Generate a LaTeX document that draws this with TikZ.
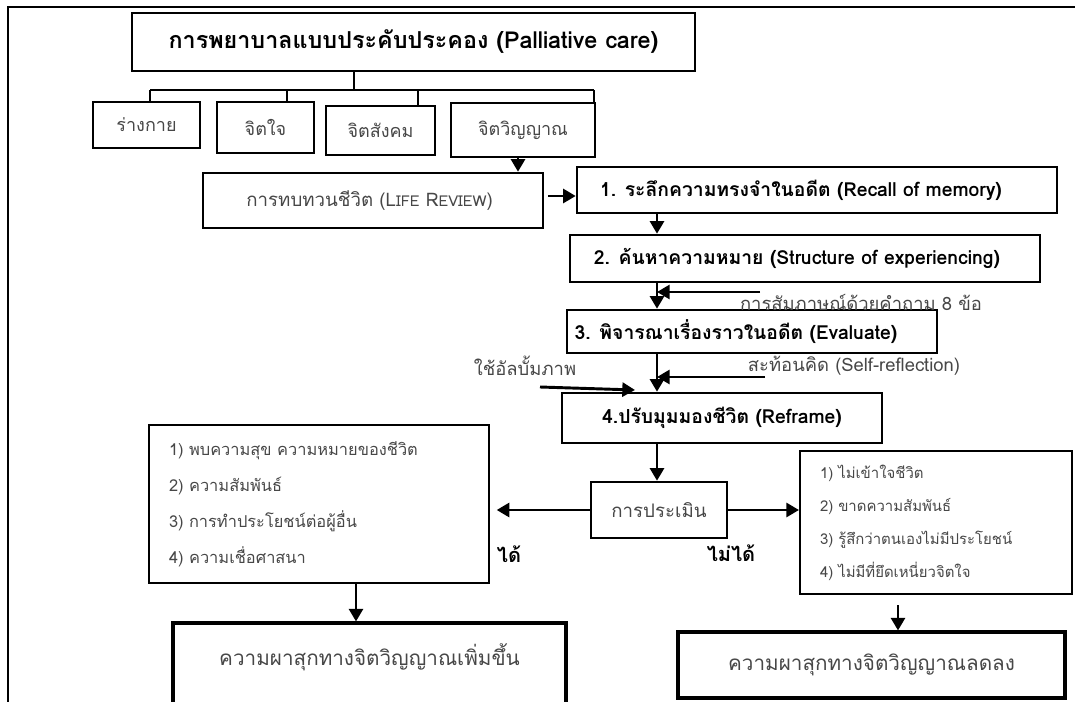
\documentclass[tikz,border=0pt]{standalone}
\usepackage{fontspec}
\setmainfont[Script=Thai]{Loma}
\usetikzlibrary{arrows.meta}
\tikzset{
  sz/.style 2 args={minimum width=#1*0.75pt, minimum height=#2*0.75pt},
  box/.style={draw, line width=1.9pt, inner sep=0pt, align=center},
  lbox/.style={draw, line width=1.5pt, inner sep=0pt},
  thk/.style={draw, line width=2.3pt, inner sep=0pt, align=center},
  gtxt/.style={text=black!72},
  ln/.style={line width=1.5pt},
  arr/.style={line width=2.2pt, -{Triangle[length=9.5pt,width=10.5pt]}},
  lbl/.style={inner sep=0pt, text=black!72, font=\fontsize{13.8}{15}\selectfont},
  yn/.style={inner sep=0pt, font=\fontsize{15}{18}\selectfont\bfseries},
  stepfont/.style={font=\fontsize{14.5}{16}\selectfont\bfseries},
}
\begin{document}
\begin{tikzpicture}[x=0.75pt,y=-0.75pt]
\useasboundingbox (0,0) rectangle (1075,702);
\clip (0,0) rectangle (1075,702);
% frame
\draw[line width=1.5pt] (8,712) -- (8,7) -- (1085,7);
% top box
\node[box,sz={563}{58}] (top) at (413.5,42) {\fontsize{17.5}{19}\selectfont\bfseries การพยาบาลแบบประคับประคอง (Palliative care)};
% row boxes
\node[box,gtxt,sz={107}{46},font=\fontsize{13.5}{15}\selectfont] (b1) at (146.5,125) {ร่างกาย};
\node[box,gtxt,sz={97}{51},font=\fontsize{13.5}{15}\selectfont] (b2) at (265.5,127.5) {จิตใจ};
\node[box,gtxt,sz={109}{49},font=\fontsize{13.5}{15}\selectfont] (b3) at (380.5,130.5) {จิตสังคม};
\node[box,gtxt,sz={144}{54},font=\fontsize{13.5}{15}\selectfont] (b4) at (523,130) {จิตวิญญาณ};
% tree
\coordinate (tj) at (354,90);
\coordinate (t1) at (150,90);
\coordinate (t2) at (287,90);
\coordinate (t3) at (418,90);
\coordinate (t4) at (594,90);
\draw[ln] (tj |- top.south) -- (tj);
\draw[ln] (t1) -- (t4);
\draw[ln] (t1) -- (t1 |- b1.north);
\draw[ln] (t2) -- (t2 |- b2.north);
\draw[ln] (t3) -- (t3 |- b3.north);
\draw[ln] (t4) -- (t4 |- b4.north);
% life review
\node[box,gtxt,sz={340}{55},font=\fontsize{14}{17}\selectfont] (lr) at (373,200.5) {การทบทวนชีวิต (L{\fontsize{11.2}{14}\selectfont IFE} R{\fontsize{11.2}{14}\selectfont EVIEW})\hspace*{5pt}};
\coordinate (a1) at (518,0);
\draw[arr] (a1 |- b4.south) -- (a1 |- lr.north);
% steps
\node[box,sz={480}{46},stepfont] (s1) at (817,190) {1. ระลึกความทรงจำในอดีต (Recall of memory)\hspace*{24pt}};
\coordinate (a2) at (548,196);
\draw[arr] (a2) -- (a2 -| s1.west);
\node[box,sz={470}{47},stepfont] (s2) at (805,258.5) {2. ค้นหาความหมาย (Structure of experiencing)\hspace*{12pt}};
\node[box,sz={370}{43},stepfont] (s3) at (752,331.5) {3. พิจารณาเรื่องราวในอดีต (Evaluate)\hspace*{24pt}};
\node[box,sz={320}{50},stepfont] (s4) at (722,418) {4.ปรับมุมมองชีวิต (Reframe)};
\coordinate (ax) at (657,0);
\draw[arr] (ax |- s1.south) -- (ax |- s2.north);
\draw[arr] (ax |- s2.south) -- (ax |- s3.north);
\draw[arr] (ax |- s3.south) -- (ax |- s4.north);
% side inputs
\coordinate (q1) at (760,292);
\draw[arr] (q1) -- (q1 -| ax);
\node[lbl] (l1) at (861,302) {การสัมภาษณ์ด้วยคำถาม 8 ข้อ};
\coordinate (q2) at (765,377);
\draw[arr] (q2) -- (q2 -| ax);
\node[lbl] (l2) at (854,366) {สะท้อนคิด (Self-reflection)};
\node[lbl] (l3) at (525,366) {ใช้อัลบั้มภาพ};
\coordinate (q3) at (540,387);
\coordinate (q3e) at (635,390);
\draw[arr] (q3) -- (q3e);
% evaluation
\node[box,gtxt,sz={136}{56},font=\fontsize{14}{16}\selectfont] (ev) at (659,510) {การประเมิน};
\draw[arr] (ax |- s4.south) -- (ax |- ev.north);
% lists
\node[lbox,gtxt,sz={340}{158},text width=300*0.75pt,align=left,font=\fontsize{12.3}{27}\selectfont] (L) at (319,504) {1) พบความสุข ความหมายของชีวิต\\2) ความสัมพันธ์\\3) การทำประโยชน์ต่อผู้อื่น\\4) ความเชื่อศาสนา};
\node[lbox,gtxt,sz={272}{143},text width=232*0.75pt,align=left,font=\fontsize{11.2}{24.75}\selectfont] (R) at (936,522.5) {1) ไม่เข้าใจชีวิต\\2) ขาดความสัมพันธ์\\3) รู้สึกว่าตนเองไม่มีประโยชน์\\4) ไม่มีที่ยึดเหนี่ยวจิตใจ};
\draw[arr,shorten >=5pt] (ev.west) -- (ev.west -| L.east);
\draw[arr] (ev.east) -- (ev.east -| R.west);
\node[yn] (yes) at (509,554) {ได้};
\node[yn] (no) at (731,553) {ไม่ได้};
% results
\node[thk,gtxt,sz={393}{90},font=\fontsize{15.5}{18}\selectfont] (BL) at (369.5,668) {\raisebox{8pt}[\height][\depth]{ความผาสุกทางจิตวิญญาณเพิ่มขึ้น}};
\node[thk,gtxt,sz={387}{66},font=\fontsize{15.5}{18}\selectfont] (BR) at (871.5,665) {ความผาสุกทางจิตวิญญาณลดลง};
\coordinate (ay) at (356,0);
\draw[arr] (ay |- L.south) -- (ay |- BL.north);
\coordinate (az) at (898,605);
\draw[arr] (az) -- (az |- BR.north);
\end{tikzpicture}
\end{document}
